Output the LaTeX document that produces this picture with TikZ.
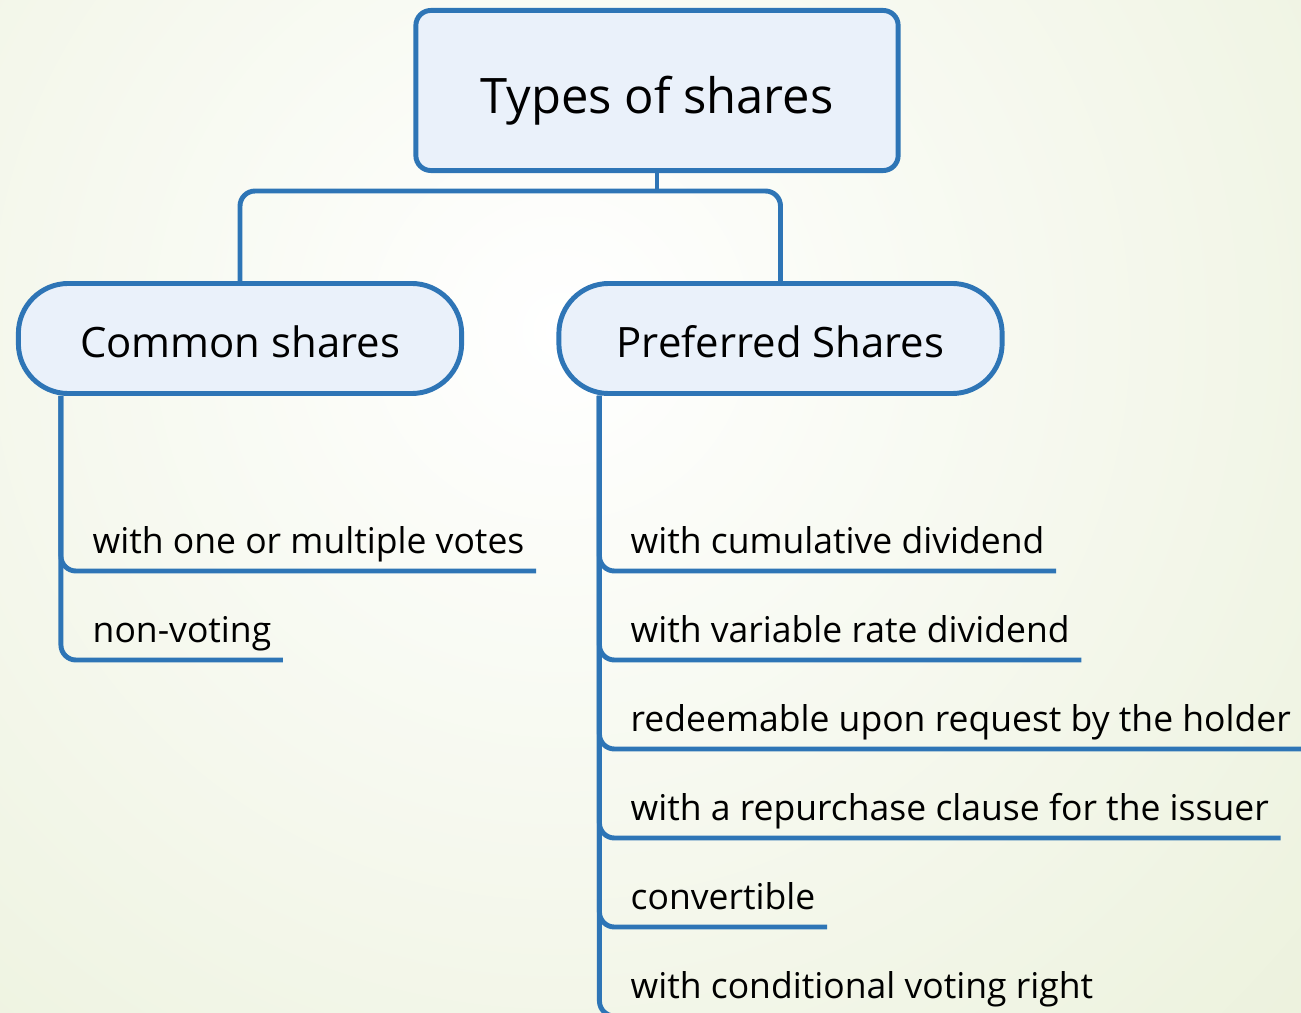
\documentclass[tikz,border=0pt]{standalone}
\usepackage{fontspec}
\setmainfont{Open Sans}

\definecolor{shareblue}{RGB}{46,117,182}
\definecolor{sharefill}{RGB}{234,241,250}
\definecolor{bgpale}{RGB}{220,230,192}

\begin{document}
\begin{tikzpicture}[x=0.01cm,y=-0.01cm,
    line/.style={draw=shareblue,line width=1.4pt},
    topbox/.style={line,fill=sharefill,rounded corners=0.15cm,minimum width=4.82cm,minimum height=1.6cm,text height=0.45cm,text depth=0cm,font=\fontsize{13.9}{16}\selectfont},
    kindbox/.style={line,fill=sharefill,rounded corners=0.5cm,minimum width=4.43cm,minimum height=1.1cm,text height=0.37cm,text depth=0cm,font=\fontsize{11.9}{14}\selectfont},
    item/.style={anchor=base west,inner sep=0pt,font=\fontsize{10.1}{12}\selectfont},
    branch/.style={line,rounded corners=0.15cm}]
    \clip (0,0) rectangle (1301,1013);
    \shade [inner color=white,outer color=bgpale] (560,330) circle (1900);

    \node [topbox] (top) at (657,90.5) {Types of shares};
    \node [kindbox] (cs) at (240,338.5) {Common shares};
    \node [kindbox] (ps) at (780.5,338.5) {Preferred Shares};

    \coordinate (bar) at ([yshift=-0.18cm]top.south);
    \draw [line] (top.south) -- (bar);
    \draw [branch] (cs.north) |- (bar) -| (ps.north);

    \node [item] (c1) at (92,553) {with one or multiple votes};
    \node [item] (c2) at (92,642) {non-voting};

    \coordinate (ctrunk) at ([xshift=0.45cm]cs.south west);
    \draw [branch] (ctrunk) |- ([xshift=0.11cm,yshift=-0.18cm]c1.base east);
    \draw [branch] (ctrunk) |- ([xshift=0.11cm,yshift=-0.18cm]c2.base east);

    \node [item] (p1) at (630,553) {with cumulative dividend};
    \node [item] (p2) at (630,642) {with variable rate dividend};
    \node [item] (p3) at (630,731) {redeemable upon request by the holder};
    \node [item] (p4) at (630,820) {with a repurchase clause for the issuer};
    \node [item] (p5) at (630,909) {convertible};
    \node [item] (p6) at (630,998) {with conditional voting right};

    \coordinate (ptrunk) at ([xshift=0.43cm]ps.south west);
    \draw [branch] (ptrunk) |- ([xshift=0.11cm,yshift=-0.18cm]p1.base east);
    \draw [branch] (ptrunk) |- ([xshift=0.11cm,yshift=-0.18cm]p2.base east);
    \draw [branch] (ptrunk) |- ([xshift=0.11cm,yshift=-0.18cm]p3.base east);
    \draw [branch] (ptrunk) |- ([xshift=0.11cm,yshift=-0.18cm]p4.base east);
    \draw [branch] (ptrunk) |- ([xshift=0.11cm,yshift=-0.18cm]p5.base east);
    \draw [branch] (ptrunk) |- ([xshift=0.11cm,yshift=-0.18cm]p6.base east);
  \end{tikzpicture}
\end{document}
